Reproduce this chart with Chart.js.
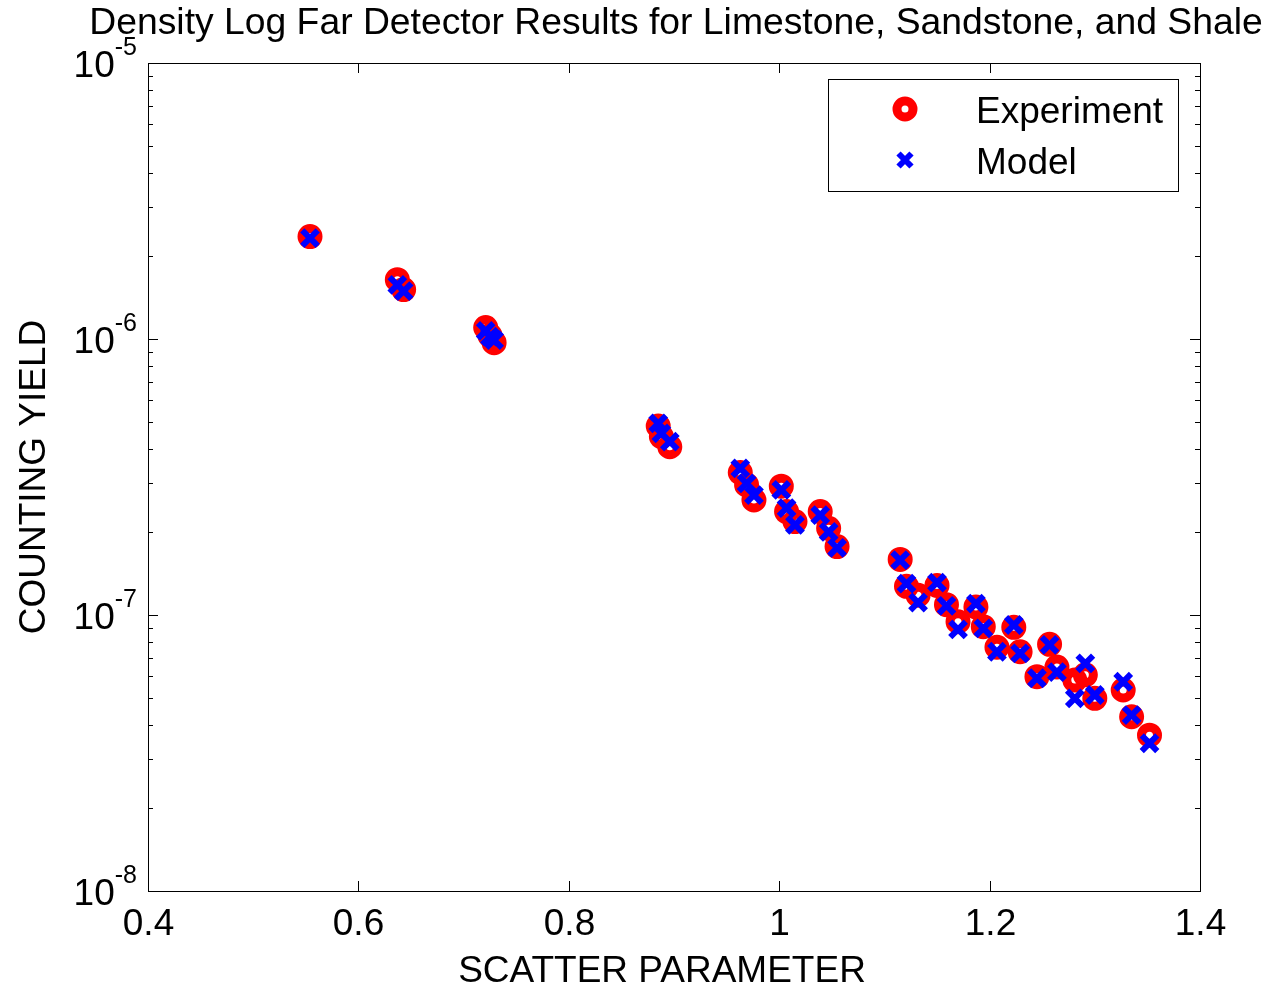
<!DOCTYPE html>
<html lang="en">
<head>
  <meta charset="UTF-8">
  <title>Density Log Far Detector Results</title>
  <script src="https://cdn.jsdelivr.net/npm/chart.js"></script>
  <style>
    html, body { margin: 0; padding: 0; background: #fff; }
    #wrap { width: 1268px; height: 987px; }
  </style>
</head>
<body>
  <div id="wrap"><canvas id="chart"></canvas></div>

  <script>
    // Values
    const scatterParam = [0.554, 0.637, 0.643, 0.721, 0.725, 0.729, 0.885, 0.888, 0.896,
      0.963, 0.969, 0.976, 1.002, 1.007, 1.015, 1.039, 1.047, 1.055, 1.115, 1.121, 1.132,
      1.150, 1.159, 1.170, 1.187, 1.194, 1.207, 1.223, 1.229, 1.245, 1.257, 1.264, 1.281,
      1.291, 1.300, 1.327, 1.335, 1.352];
    const experimentYield = [2.35e-6, 1.64e-6, 1.51e-6, 1.10e-6, 1.03e-6, 0.97e-6, 4.84e-7,
      4.43e-7, 4.07e-7, 3.28e-7, 2.96e-7, 2.61e-7, 2.93e-7, 2.37e-7, 2.18e-7, 2.37e-7, 2.06e-7,
      1.77e-7, 1.59e-7, 1.27e-7, 1.18e-7, 1.28e-7, 1.09e-7, 9.46e-8, 1.07e-7, 9.07e-8, 7.64e-8,
      9.02e-8, 7.36e-8, 5.98e-8, 7.83e-8, 6.48e-8, 5.81e-8, 6.07e-8, 4.99e-8, 5.35e-8, 4.28e-8,
      3.67e-8];
    const modelYield = [2.32e-6, 1.57e-6, 1.49e-6, 1.07e-6, 1.02e-6, 0.99e-6, 4.95e-7,
      4.55e-7, 4.25e-7, 3.40e-7, 3.00e-7, 2.72e-7, 2.84e-7, 2.44e-7, 2.12e-7, 2.30e-7, 2.00e-7,
      1.75e-7, 1.58e-7, 1.30e-7, 1.11e-7, 1.31e-7, 1.08e-7, 8.87e-8, 1.10e-7, 8.95e-8, 7.36e-8,
      9.20e-8, 7.26e-8, 5.90e-8, 7.79e-8, 6.21e-8, 4.99e-8, 6.68e-8, 5.13e-8, 5.73e-8, 4.34e-8,
      3.43e-8];

    const xTicks = [0.4, 0.6, 0.8, 1.0, 1.2, 1.4];
    const xTickLabels = ['0.4', '0.6', '0.8', '1', '1.2', '1.4'];
    const yExponents = [-8, -7, -6, -5];

    const titleText = 'Density Log Far Detector Results for Limestone, Sandstone, and Shale';
    const xTitle = 'SCATTER PARAMETER';
    const yTitle = 'COUNTING YIELD';
    const FONT = 'Arial, "Liberation Sans", sans-serif';

    // MATLAB-like axes: box, inward ticks, 10^n labels, titles, legend
    const matlabAxes = {
      id: 'matlabAxes',
      afterDraw(chart) {
        const ctx = chart.ctx;
        const a = chart.chartArea;
        const xs = chart.scales.x;
        const ys = chart.scales.y;
        ctx.save();
        ctx.strokeStyle = '#000';
        ctx.fillStyle = '#000';
        ctx.lineWidth = 1;

        // box
        ctx.strokeRect(a.left + 0.5, a.top + 0.5, a.right - a.left, a.bottom - a.top);

        // x ticks + labels
        ctx.font = '37px ' + FONT;
        ctx.textAlign = 'center';
        ctx.textBaseline = 'alphabetic';
        xTicks.forEach((v, i) => {
          const px = Math.round(xs.getPixelForValue(v)) + 0.5;
          ctx.beginPath();
          ctx.moveTo(px, a.bottom); ctx.lineTo(px, a.bottom - 10);
          ctx.moveTo(px, a.top); ctx.lineTo(px, a.top + 10);
          ctx.stroke();
          ctx.fillText(xTickLabels[i], px, a.bottom + 44);
        });

        // y ticks (major + minor)
        yExponents.forEach(e => {
          const ks = e < yExponents[yExponents.length - 1] ? [1, 2, 3, 4, 5, 6, 7, 8, 9] : [1];
          ks.forEach(k => {
            const py = Math.round(ys.getPixelForValue(k * Math.pow(10, e))) + 0.5;
            const len = k === 1 ? 10 : 5;
            ctx.beginPath();
            ctx.moveTo(a.left, py); ctx.lineTo(a.left + len, py);
            ctx.moveTo(a.right, py); ctx.lineTo(a.right - len, py);
            ctx.stroke();
          });
        });

        // y labels 10^e
        yExponents.forEach(e => {
          const py = ys.getPixelForValue(Math.pow(10, e));
          const sup = String(e);
          ctx.font = '25px ' + FONT;
          const supW = ctx.measureText(sup).width;
          ctx.textAlign = 'left';
          ctx.fillText(sup, a.left - 11 - supW, py - 8);
          ctx.font = '37px ' + FONT;
          ctx.textAlign = 'right';
          ctx.fillText('10', a.left - 11 - supW, py + 14);
        });

        // title, sized to span the reference width
        let fs = 40;
        ctx.font = fs + 'px ' + FONT;
        fs = fs * 1172 / ctx.measureText(titleText).width;
        ctx.font = fs.toFixed(1) + 'px ' + FONT;
        ctx.textAlign = 'center';
        ctx.fillText(titleText, 676, 34);

        // axis titles
        ctx.font = '37px ' + FONT;
        ctx.fillText(xTitle, 662, 982);
        ctx.save();
        ctx.translate(45, (a.top + a.bottom) / 2);
        ctx.rotate(-Math.PI / 2);
        ctx.fillText(yTitle, 0, 0);
        ctx.restore();

        // legend
        const lx = a.right - 372, ly = a.top + 16, lw = 350, lh = 112;
        ctx.fillStyle = '#fff';
        ctx.fillRect(lx, ly, lw, lh);
        ctx.strokeStyle = '#000';
        ctx.strokeRect(lx + 0.5, ly + 0.5, lw, lh);

        ctx.strokeStyle = '#ff0000';
        ctx.lineWidth = 9;
        ctx.beginPath();
        ctx.arc(lx + 77, ly + 30, 8, 0, Math.PI * 2);
        ctx.stroke();

        ctx.strokeStyle = '#0000ff';
        ctx.lineWidth = 6;
        const cx = lx + 77, cy = ly + 81, r = 6.5;
        ctx.beginPath();
        ctx.moveTo(cx - r, cy - r); ctx.lineTo(cx + r, cy + r);
        ctx.moveTo(cx + r, cy - r); ctx.lineTo(cx - r, cy + r);
        ctx.stroke();

        ctx.fillStyle = '#000';
        ctx.font = '37px ' + FONT;
        ctx.textAlign = 'left';
        ctx.fillText('Experiment', lx + 148, ly + 44);
        ctx.fillText('Model', lx + 148, ly + 95);

        ctx.restore();
      }
    };

    const experimentPoints = scatterParam.map((x, i) => ({ x: x, y: experimentYield[i] }));
    const modelPoints = scatterParam.map((x, i) => ({ x: x, y: modelYield[i] }));

    new Chart(document.getElementById('chart'), {
      type: 'scatter',
      data: {
        datasets: [
          {
            label: 'Experiment',
            data: experimentPoints,
            order: 2,
            pointStyle: 'circle',
            pointRadius: 8,
            borderWidth: 9,
            borderColor: '#ff0000',
            backgroundColor: 'rgba(0,0,0,0)'
          },
          {
            label: 'Model',
            data: modelPoints,
            order: 1,
            pointStyle: 'crossRot',
            pointRadius: 11,
            borderWidth: 6,
            borderColor: '#0000ff',
            backgroundColor: '#0000ff'
          }
        ]
      },
      options: {
        responsive: true,
        maintainAspectRatio: false,
        animation: false,
        layout: { padding: { left: 148, right: 68, top: 63, bottom: 96 } },
        plugins: {
          legend: { display: false },
          title: { display: false },
          tooltip: { enabled: false }
        },
        scales: {
          x: { type: 'linear', min: 0.4, max: 1.4, display: false },
          y: { type: 'logarithmic', min: 1e-8, max: 1e-5, display: false }
        }
      },
      plugins: [matlabAxes]
    });
  </script>
</body>
</html>
